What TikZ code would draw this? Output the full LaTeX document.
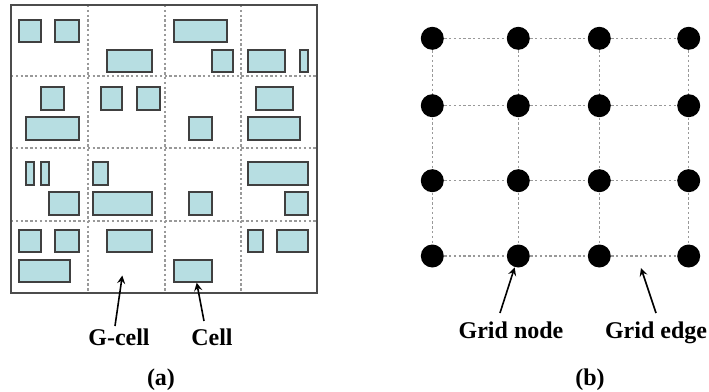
\documentclass[tikz,border=0pt]{standalone}
\usepackage{fontspec}
\setmainfont{Liberation Serif}
\usetikzlibrary{arrows}
\definecolor{cellblue}{RGB}{183,222,226}

\begin{document}
\begin{tikzpicture}[x=0.5pt,y=-0.5pt,
  cell/.style={draw=black!75, fill=cellblue, line width=1pt},
  gline/.style={draw=black!40, dash pattern=on 1.2pt off 1.2pt, line width=0.6pt},
  gnode/.style={circle, fill=black, inner sep=0pt, minimum size=11.5pt},
  lbl/.style={font=\fontsize{12}{14}\selectfont\bfseries, anchor=base},
  >=stealth]

\useasboundingbox (0,0) rectangle (709,392);

% (a) placement area split into G-cells
\draw[gline] (88,5) -- (88,293);
\draw[gline] (165,5) -- (165,293);
\draw[gline] (241,5) -- (241,293);
\draw[gline] (11,76) -- (317,76);
\draw[gline] (11,148) -- (317,148);
\draw[gline] (11,221) -- (317,221);
\draw[draw=black!70, line width=1pt] (11,5) rectangle (317,293);

% first row
\draw[cell] (19.3,20) rectangle (41.3,42.3);
\draw[cell] (55.3,20) rectangle (78.7,42.3);
\draw[cell] (107.3,49.7) rectangle (152,72.3);
\draw[cell] (174,20) rectangle (226.7,42.3);
\draw[cell] (211.7,49.7) rectangle (233.3,72.3);
\draw[cell] (247.7,49.7) rectangle (285.3,72.3);
\draw[cell] (299.7,49.7) rectangle (308,72.3);

% second row
\draw[cell] (40.7,87.3) rectangle (64,110);
\draw[cell] (26,117.3) rectangle (78.7,139.7);
\draw[cell] (100.7,87.3) rectangle (122.3,110);
\draw[cell] (136.7,87.3) rectangle (159.7,110);
\draw[cell] (189,117.3) rectangle (212,139.7);
\draw[cell] (255.7,87.3) rectangle (293.3,110);
\draw[cell] (247.7,117.3) rectangle (300,139.7);

% third row
\draw[cell] (26,162.3) rectangle (34.3,185);
\draw[cell] (40.7,162.3) rectangle (49.3,185);
\draw[cell] (48.7,192.3) rectangle (78.7,214.7);
\draw[cell] (92.7,162.3) rectangle (107.7,185);
\draw[cell] (92.7,192.3) rectangle (152,214.7);
\draw[cell] (189,192.3) rectangle (212,214.7);
\draw[cell] (247.7,162.3) rectangle (308,185);
\draw[cell] (285.3,192.3) rectangle (308,214.7);

% fourth row
\draw[cell] (19.3,230) rectangle (41.3,252);
\draw[cell] (55.3,230) rectangle (78.7,252);
\draw[cell] (19.3,259.7) rectangle (70.3,282.3);
\draw[cell] (107.3,230) rectangle (152,252);
\draw[cell] (174,259.7) rectangle (212,282.3);
\draw[cell] (247.7,230) rectangle (262.7,252);
\draw[cell] (277,230) rectangle (308,252);

\coordinate (gtip) at (122.3,275.5);
\coordinate (ctip) at (196.7,282.7);

\node[lbl] (gcl) at (119,345) {G-cell};
\node[lbl] (cl) at (212,345) {Cell};
\node[lbl] (alab) at (161,385) {(a)};

\begin{scope}[->, line width=0.8pt]
\draw (115,326) -- (gtip);
\draw (204,321) -- (ctip);
\end{scope}

% (b) grid graph
\node[gnode] (n11) at (432.3,38.3) {};
\node[gnode] (n12) at (518.3,38.3) {};
\node[gnode] (n13) at (599.3,38.3) {};
\node[gnode] (n14) at (688.7,38.3) {};
\node[gnode] (n21) at (432.3,105.7) {};
\node[gnode] (n22) at (518.3,105.7) {};
\node[gnode] (n23) at (599.3,105.7) {};
\node[gnode] (n24) at (688.7,105.7) {};
\node[gnode] (n31) at (432.3,180.7) {};
\node[gnode] (n32) at (518.3,180.7) {};
\node[gnode] (n33) at (599.3,180.7) {};
\node[gnode] (n34) at (688.7,180.7) {};
\node[gnode] (n41) at (432.3,256) {};
\node[gnode] (n42) at (518.3,256) {};
\node[gnode] (n43) at (599.3,256) {};
\node[gnode] (n44) at (688.7,256) {};

\draw[gline] (n11) -- (n12) -- (n13) -- (n14);
\draw[gline] (n21) -- (n22) -- (n23) -- (n24);
\draw[gline] (n31) -- (n32) -- (n33) -- (n34);
\draw[gline] (n41) -- (n42) -- (n43) -- (n44);
\draw[gline] (n11) -- (n21) -- (n31) -- (n41);
\draw[gline] (n12) -- (n22) -- (n32) -- (n42);
\draw[gline] (n13) -- (n23) -- (n33) -- (n43);
\draw[gline] (n14) -- (n24) -- (n34) -- (n44);

\coordinate (ntail) at (500,313);
\coordinate (etail) at (656,313);
\coordinate (etip) at (641,268);

\node[lbl] (nl) at (511,338) {Grid node};
\node[lbl] (el) at (656,338) {Grid edge};
\node[lbl] (blab) at (590,385) {(b)};

\begin{scope}[->, line width=0.8pt]
\draw (ntail) -- (n42);
\draw (etail) -- (etip);
\end{scope}
\end{tikzpicture}
\end{document}
